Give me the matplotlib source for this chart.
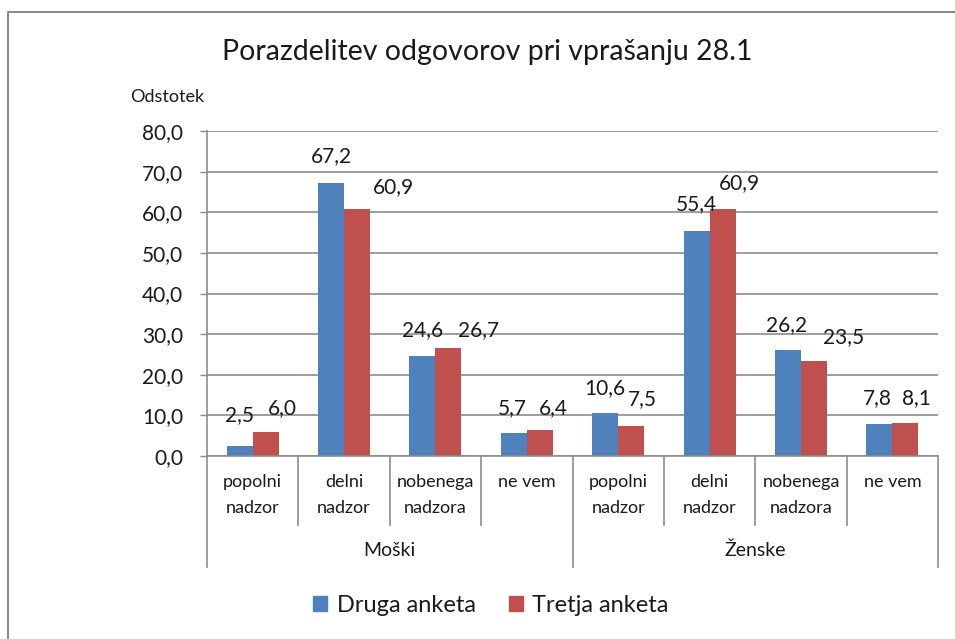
import matplotlib
matplotlib.use("Agg")
from matplotlib import pyplot as plt
from matplotlib.lines import Line2D
from matplotlib.patches import Rectangle
import numpy as np

plt.rcParams['font.family'] = ['Lato', 'DejaVu Sans']

title = "Porazdelitev odgovorov pri vprašanju 28.1"
y_label = "Odstotek"
categories = ["popolni\nnadzor", "delni\nnadzor", "nobenega\nnadzora", "ne vem",
              "popolni\nnadzor", "delni\nnadzor", "nobenega\nnadzora", "ne vem"]
groups = ["Moški", "Ženske"]
series_names = ["Druga anketa", "Tretja anketa"]
druga = [2.5, 67.2, 24.6, 5.7, 10.6, 55.4, 26.2, 7.8]
tretja = [6.0, 60.9, 26.7, 6.4, 7.5, 60.9, 23.5, 8.1]
y_ticks = [0, 10, 20, 30, 40, 50, 60, 70, 80]

BLUE = "#4F81BD"
RED = "#C0504D"
GRID = "#8C8C8C"
TXT = "#1A1A1A"

# label nudges (pixels) so the value labels don't collide
blue_nudge = [(0, 31), (0, 27), (0, 26), (-2, 25), (0, 25), (0, 27), (-1, 24), (-2, 26)]
red_nudge = [(17, 24), (36, 21), (30, 17), (14, 22), (11, 26), (17, 26), (30, 23), (11, 25)]

W, H = 955, 639
fig = plt.figure(figsize=(W / 100, H / 100), dpi=100)

# plot area in pixels
x0, x1, y_top, y_bot = 207, 938, 131, 456
ax = fig.add_axes([x0 / W, 1 - y_bot / H, (x1 - x0) / W, (y_bot - y_top) / H])

n = len(categories)
x = np.arange(n)
bw = 0.284
ax.bar(x - bw / 2, druga, bw, color=BLUE, label=series_names[0], zorder=3)
ax.bar(x + bw / 2, tretja, bw, color=RED, label=series_names[1], zorder=3)

ax.set_xlim(-0.5, n - 0.5)
ax.set_ylim(0, 80)
ax.set_yticks(y_ticks)
ax.set_yticklabels([f"{v:.1f}".replace(".", ",") for v in y_ticks], fontsize=15, color=TXT)
ax.tick_params(axis='y', length=5, width=1, color=GRID, pad=12)
ax.set_xticks([])
ax.yaxis.grid(True, color=GRID, linewidth=1.2, zorder=0)
for s in ["top", "right"]:
    ax.spines[s].set_visible(False)
for s in ["left", "bottom"]:
    ax.spines[s].set_color(GRID)
    ax.spines[s].set_linewidth(1.2)
ax.spines["bottom"].set_zorder(4)

# value labels
for i in range(n):
    ax.annotate(f"{druga[i]:.1f}".replace(".", ","), (x[i] - bw / 2, druga[i]),
                xytext=blue_nudge[i], textcoords='offset pixels',
                ha='center', va='center', fontsize=15, color=TXT)
    ax.annotate(f"{tretja[i]:.1f}".replace(".", ","), (x[i] + bw / 2, tretja[i]),
                xytext=red_nudge[i], textcoords='offset pixels',
                ha='center', va='center', fontsize=15, color=TXT)

# category axis: separators, labels and group labels
ph = y_bot - y_top
tr = ax.get_xaxis_transform()
inner = -(525 - y_bot) / ph
outer = -(567 - y_bot) / ph
for k in range(n + 1):
    low = outer if k % 4 == 0 else inner
    ax.plot([k - 0.5, k - 0.5], [0, low], transform=tr, color=GRID,
            linewidth=1.2, clip_on=False)
for i, c in enumerate(categories):
    ax.text(x[i], -(474 - y_bot) / ph, c, transform=tr, ha='center', va='top',
            fontsize=13, color=TXT, linespacing=1.75)
for g, name in enumerate(groups):
    ax.text(g * 4 + 1.5, -(550 - y_bot) / ph, name, transform=tr,
            ha='center', va='center', fontsize=14, color=TXT)

fig.text(487 / W, 1 - 52 / H, title, ha='center', va='center', fontsize=20.5, color=TXT)
fig.text(130 / W, 1 - 97 / H, y_label, ha='left', va='center', fontsize=13, color=TXT)

# legend
fig.legend(handles=[Rectangle((0, 0), 1, 1, color=BLUE), Rectangle((0, 0), 1, 1, color=RED)],
           labels=series_names, loc='center', bbox_to_anchor=(491 / W, 1 - 605 / H),
           ncol=2, frameon=False, fontsize=17, handlelength=0.6, handleheight=0.6,
           handletextpad=0.4, columnspacing=1.4, labelcolor=TXT)

# chart frame
fig.add_artist(Line2D([8 / W, 8 / W, 1], [0, 1 - 12 / H, 1 - 12 / H],
                      transform=fig.transFigure, color="#8C8C8C", linewidth=1.5))

fig.savefig("out.png", dpi=100)
